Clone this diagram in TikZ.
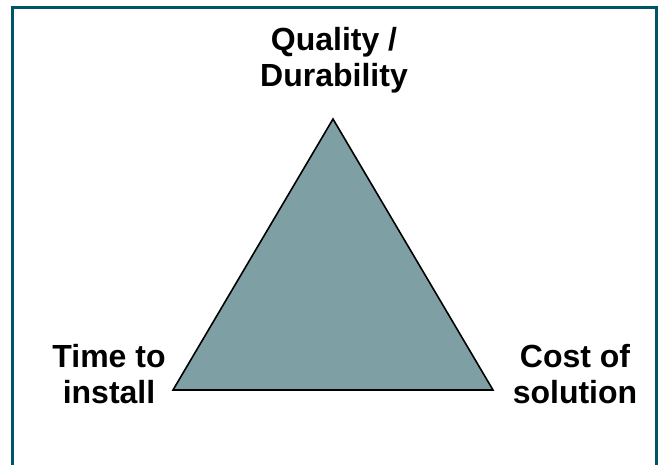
\documentclass[tikz,border=0pt]{standalone}
\usepackage{fontspec}
\setmainfont{Liberation Sans}
\usepackage{xcolor}
\usetikzlibrary{positioning,calc}
\definecolor{frame}{RGB}{0,84,104}
\definecolor{triangle}{RGB}{126,160,165}
\tikzstyle{corner}=[align=center,font=\fontsize{32}{36}\selectfont\bfseries,text=black,inner sep=0pt]
\tikzset{y=-1pt}
\tikzset{x=1pt}
\begin{document}
\begin{tikzpicture}
  \useasboundingbox (0,0) rectangle (661,464);
  \draw[line width=3pt,color=frame] (12.5,7.5) rectangle (656,475);
  \draw (333,119) coordinate (top);
  \draw (173,390) coordinate (left);
  \draw (493,390) coordinate (right);
  \draw[fill=triangle,line width=1.6pt,line join=miter] (top) -- (left) -- (right) -- cycle;

  \draw (334,60) node[corner] (quality) {Quality /\\Durability};
  \draw (109,374) node[corner] (time) {Time to\\install};
  \draw (575,374) node[corner] (cost) {Cost of\\solution};
\end{tikzpicture}
\end{document}
